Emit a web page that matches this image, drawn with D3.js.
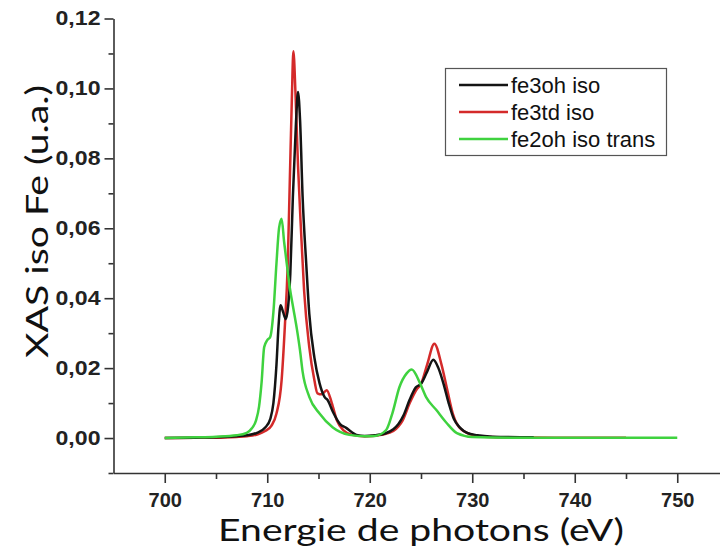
<!DOCTYPE html>
<html><head><meta charset="utf-8">
<script src="https://cdn.jsdelivr.net/npm/d3@7/dist/d3.min.js"></script>
<style>html,body{margin:0;padding:0;background:#fff;overflow:hidden}</style>
</head><body>
<svg id="chart" width="720" height="554"></svg>
<script>
// ---- data ----
const seriesNames = ["fe3oh iso", "fe3td iso", "fe2oh iso trans"];
const seriesColors = ["#141414", "#d42a2a", "#3fd23f"];

const fe3ohE = [700,703,705,707,708,709,709.8,710.3,710.6,710.9,711.1,711.3,711.55,711.8,712.05,712.25,712.5,712.8,713.0,713.2,713.45,713.8,714.1,714.6,715.1,715.6,715.9,716.4,717.1,717.7,718.2,718.7,719.5,720.5,721.5,722.3,722.8,723.3,723.9,724.5,725.0,725.6,726.2,726.7,727.2,727.7,728.2,728.8,729.5,730.5,732,736];
const fe3ohY = [0,0.0001,0.0002,0.0005,0.0008,0.0015,0.003,0.0055,0.010,0.021,0.032,0.038,0.036,0.034,0.038,0.047,0.069,0.090,0.099,0.091,0.069,0.050,0.0356,0.023,0.0157,0.0117,0.0108,0.0075,0.004,0.0029,0.0018,0.0009,0.0006,0.0008,0.0013,0.0025,0.004,0.0065,0.011,0.0145,0.0155,0.019,0.0224,0.020,0.0155,0.010,0.0055,0.003,0.0015,0.0008,0.0004,0.0002];

const fe3tdE = [700,703,705,707,708,709,709.8,710.4,710.9,711.4,711.7,712.0,712.2,712.4,712.55,712.75,713.0,713.3,713.6,714.1,714.6,714.9,715.3,715.8,716.3,716.8,717.4,718.3,719.3,720.3,721.3,722.3,722.8,723.2,723.9,724.6,725.0,725.6,726.3,727.0,727.5,728.1,729.0,730.7,733,738,745];
const fe3tdY = [0,0.0001,0.0001,0.0003,0.0005,0.001,0.002,0.0035,0.007,0.0165,0.031,0.050,0.0735,0.097,0.1106,0.099,0.078,0.059,0.042,0.026,0.0165,0.0128,0.0125,0.0137,0.010,0.005,0.0023,0.0009,0.0005,0.0006,0.001,0.002,0.0033,0.005,0.010,0.014,0.0155,0.021,0.027,0.021,0.0146,0.007,0.0023,0.0005,0.0002,0.0001,0.0001];

const fe2ohE = [700,703,705,707,708,708.5,708.9,709.2,709.45,709.7,710.0,710.3,710.6,710.9,711.15,711.4,711.65,711.9,712.2,712.55,712.9,713.2,713.45,714.1,715.1,716.4,718.0,719.5,720.5,721.6,722.2,722.9,723.6,724.1,724.9,725.5,726.5,727.5,728.5,730,735,740,750];
const fe2ohY = [0,0.0002,0.0004,0.0008,0.0015,0.0028,0.005,0.009,0.016,0.026,0.028,0.029,0.036,0.050,0.060,0.0627,0.056,0.050,0.043,0.037,0.031,0.025,0.019,0.0118,0.007,0.003,0.0009,0.0005,0.0006,0.0023,0.007,0.0146,0.0185,0.0196,0.0157,0.0117,0.008,0.0043,0.0014,0.0003,0.0001,0.0001,0.0001];

const xTicks = [700,710,720,730,740,750];
const xMinor = [705,715,725,735,745];
const yTicks = [0,0.02,0.04,0.06,0.08,0.10,0.12];
const yMinor = [-0.01,0.01,0.03,0.05,0.07,0.09,0.11];
const xTitle = "Energie de photons (eV)";
const yTitle = "XAS iso Fe (u.a.)";

// ---- drawing ----
const svg = d3.select("#chart");
const x = d3.scaleLinear().domain([695, 755]).range([113.5, 728.5]);
const y = d3.scaleLinear().domain([-0.01, 0.12]).range([473, 18.5]);
const fmt = d => d3.format(".2f")(d).replace(".", ",");

const series = [
  {name: seriesNames[0], color: seriesColors[0], E: fe3ohE, Y: fe3ohY},
  {name: seriesNames[1], color: seriesColors[1], E: fe3tdE, Y: fe3tdY},
  {name: seriesNames[2], color: seriesColors[2], E: fe2ohE, Y: fe2ohY}
];

const line = d3.line().x(d => x(d[0])).y(d => y(d[1])).curve(d3.curveMonotoneX);
// draw red first, then black, then green on top
[1, 0, 2].forEach(i => {
  const s = series[i];
  svg.append("path")
    .datum(s.E.map((e, k) => [e, s.Y[k]]))
    .attr("d", line)
    .attr("fill", "none")
    .attr("stroke", s.color)
    .attr("stroke-width", 2.5)
    .attr("stroke-linejoin", "round");
});

// axes
const axisColor = "#333";
const gx = svg.append("g").attr("transform", `translate(0,${y(-0.01)})`)
  .call(d3.axisBottom(x).tickValues(xTicks).tickSize(10).tickSizeOuter(0).tickFormat(d3.format("d")));
const gxm = svg.append("g").attr("transform", `translate(0,${y(-0.01)})`)
  .call(d3.axisBottom(x).tickValues(xMinor).tickSize(6).tickSizeOuter(0).tickFormat(""));
gxm.select(".domain").remove();
const gy = svg.append("g").attr("transform", `translate(${x(695)},0)`)
  .call(d3.axisLeft(y).tickValues(yTicks).tickSize(9).tickSizeOuter(0).tickFormat(fmt));
const gym = svg.append("g").attr("transform", `translate(${x(695)},0)`)
  .call(d3.axisLeft(y).tickValues(yMinor).tickSize(5).tickSizeOuter(0).tickFormat(""));
gym.select(".domain").remove();

[gx, gxm, gy, gym].forEach(g => {
  g.selectAll(".domain").attr("stroke", axisColor).attr("stroke-width", 1.6);
  g.selectAll(".tick line").attr("stroke", axisColor).attr("stroke-width", 1.6);
});
gx.selectAll(".tick text")
  .attr("font-family", "Liberation Sans, Arial, sans-serif")
  .attr("font-weight", "bold").attr("font-size", 20).attr("fill", "#222")
  .attr("dy", "1.05em");
gy.selectAll(".tick text")
  .attr("font-family", "Liberation Sans, Arial, sans-serif")
  .attr("font-weight", "bold").attr("font-size", 20).attr("fill", "#222")
  .attr("x", -13).attr("textLength", 45).attr("lengthAdjust", "spacingAndGlyphs");

// axis titles
svg.append("text")
  .attr("x", 218).attr("y", 541)
  .attr("font-family", "Lato, Open Sans, sans-serif")
  .attr("font-size", 31).attr("fill", "#111")
  .attr("textLength", 406).attr("lengthAdjust", "spacingAndGlyphs")
  .text(xTitle);
svg.append("text")
  .attr("transform", "translate(48,358) rotate(-90)")
  .attr("font-family", "Lato, Open Sans, sans-serif")
  .attr("font-size", 31).attr("fill", "#111")
  .attr("textLength", 273).attr("lengthAdjust", "spacingAndGlyphs")
  .text(yTitle);

// legend
const lg = svg.append("g");
lg.append("rect").attr("x", 445.5).attr("y", 68.5).attr("width", 221).attr("height", 87)
  .attr("fill", "#fff").attr("stroke", "#555").attr("stroke-width", 1.2);
series.forEach((s, i) => {
  const cy = 85 + i * 27;
  lg.append("line").attr("x1", 459).attr("x2", 508).attr("y1", cy).attr("y2", cy)
    .attr("stroke", s.color).attr("stroke-width", 2.4);
  lg.append("text").attr("x", 511).attr("y", cy).attr("dy", "0.35em")
    .attr("font-family", "Liberation Sans, Arial, sans-serif")
    .attr("font-size", 22).attr("fill", "#111")
    .text(s.name);
});
</script>
</body></html>
